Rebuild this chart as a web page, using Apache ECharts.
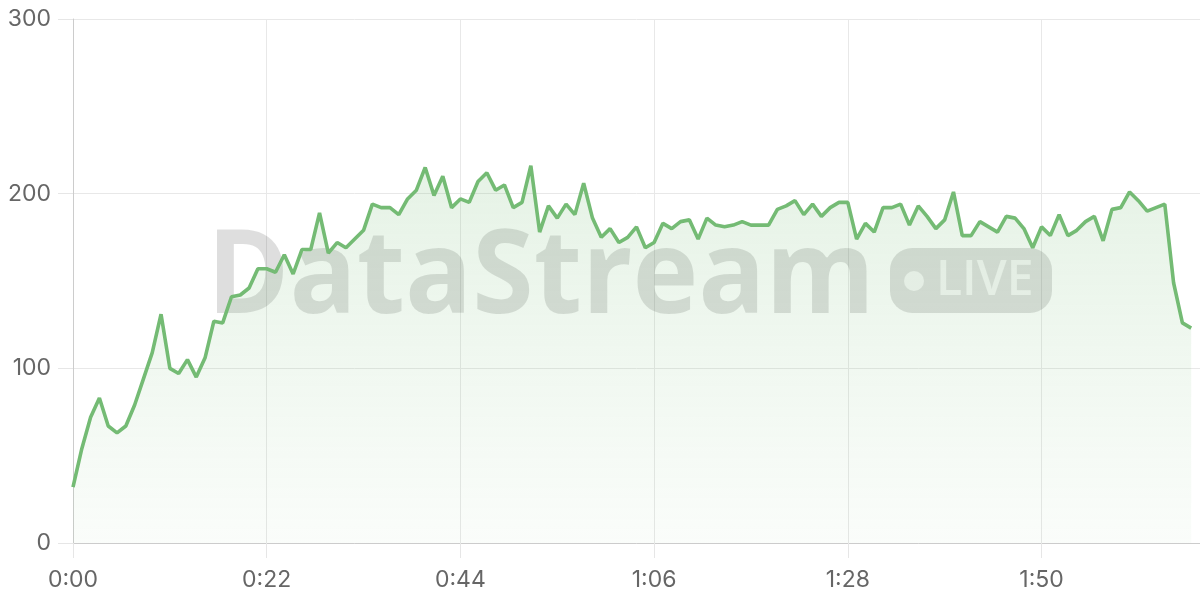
<!DOCTYPE html>
<html>
<head>
<meta charset="utf-8">
<script src="https://cdn.jsdelivr.net/npm/echarts@6/dist/echarts.min.js"></script>
<style>
html,body{margin:0;padding:0;background:#fff;}
#chart{width:1200px;height:600px;}
</style>
</head>
<body>
<div id="chart"></div>
<script>
// one sample per second, starting at 0:00
const values = [32,54,72,83,67,63,67,79,94,109,131,100,97,105,95,106,127,126,141,142,146,157,157,155,165,154,168,168,189,166,172,169,174,179,194,192,192,188,197,202,215,199,210,192,197,195,207,212,202,205,192,195,216,178,193,186,194,188,206,186,175,180,172,175,181,169,172,183,180,184,185,174,186,182,181,182,184,182,182,182,191,193,196,188,194,187,192,195,195,174,183,178,192,192,194,182,193,187,180,185,201,176,176,184,181,178,187,186,180,169,181,176,188,176,179,184,187,173,191,192,201,196,190,192,194,149,126,123];
const xTicks = [0, 22, 44, 66, 88, 110];
const yTicks = [0, 100, 200, 300];
const watermarkText = 'DataStream';
const badgeText = 'LIVE';

function fmt(s){ const m = Math.floor(s/60); const r = Math.round(s%60); return m + ':' + (r<10?'0':'') + r; }

const chart = echarts.init(document.getElementById('chart'), null, {renderer:'canvas'});
const lineColor = '#74bb74';
chart.setOption({
  animation:false,
  grid:{left:73, right:0, top:19, bottom:57},
  xAxis:{
    type:'value', min:0, max:128, interval:22,
    axisLine:{show:true, lineStyle:{color:'#cccccc', width:1}},
    axisTick:{show:true, length:15, lineStyle:{color:'#e6e6e6'}},
    axisLabel:{color:'#666', fontSize:23, fontFamily:'Inter', margin:26, showMaxLabel:false,
      formatter:v => xTicks.includes(v) ? fmt(v) : ''},
    splitLine:{show:true, lineStyle:{color:'#e8e8e8'}}
  },
  yAxis:{
    type:'value', min:0, max:300, interval:100,
    axisLine:{show:true, lineStyle:{color:'#cccccc', width:1}},
    axisTick:{show:true, length:15, lineStyle:{color:'#e6e6e6'}},
    axisLabel:{color:'#666', fontSize:23, fontFamily:'Inter', margin:22,
      formatter:v => yTicks.includes(v) ? String(v) : ''},
    splitLine:{show:true, lineStyle:{color:'#e8e8e8'}}
  },
  graphic:[
    {type:'text', z:1, left:207, top:222, scaleX:0.96, originX:0, originY:0,
      style:{text:watermarkText, font:'bold 116px "Open Sans"', fill:'rgba(0,0,0,0.13)'}},
    {type:'rect', z:1, shape:{x:890, y:248, width:162, height:65, r:22}, style:{fill:'rgba(0,0,0,0.13)'}},
    {type:'circle', z:1, shape:{cx:914, cy:281, r:10}, style:{fill:'rgba(255,255,255,0.7)'}},
    {type:'text', z:1, left:936, top:257, style:{text:badgeText, font:'600 48px "Open Sans"', fill:'rgba(255,255,255,0.7)'}}
  ],
  series:[{
    type:'line', z:2,
    data: values.map((v,i)=>[i,v]),
    showSymbol:false, smooth:false,
    lineStyle:{color:lineColor, width:3.6},
    itemStyle:{color:lineColor},
    areaStyle:{color:new echarts.graphic.LinearGradient(0,0,0,1,[
      {offset:0, color:'rgba(116,187,116,0.26)'},
      {offset:1, color:'rgba(116,187,116,0.05)'}
    ])}
  }]
});
</script>
</body>
</html>
